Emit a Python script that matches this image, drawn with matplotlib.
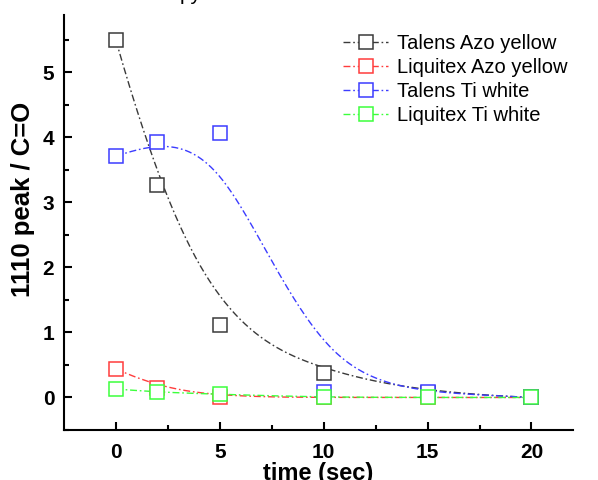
import numpy as np
import matplotlib
matplotlib.use("Agg")
import matplotlib.pyplot as plt
from matplotlib.lines import Line2D

plt.rcParams['font.family'] = ['Liberation Sans', 'DejaVu Sans']

time = [0, 2, 5, 10, 15, 20]
series_names = ["Talens Azo yellow", "Liquitex Azo yellow", "Talens Ti white", "Liquitex Ti white"]
talens_azo = [5.49, 3.26, 1.12, 0.37, 0.07, 0.0]
liquitex_azo = [0.44, 0.15, 0.01, 0.0, 0.0, 0.0]
talens_ti = [3.71, 3.92, 4.06, 0.08, 0.08, 0.0]
liquitex_ti = [0.13, 0.08, 0.05, 0.0, 0.0, 0.0]
colors = ["#3a3a3a", "#ff3c3c", "#3c3cff", "#3cff3c"]
x_ticks = [0, 5, 10, 15, 20]
y_ticks = [0, 1, 2, 3, 4, 5]


def bspline(xs, ys, num=300, k=3):
    """Clamped cubic B-spline using the data points as control points."""
    P = np.column_stack([xs, ys]).astype(float)
    n = len(P)
    inner = np.linspace(0, 1, n - k + 1)[1:-1]
    t = np.concatenate([np.zeros(k + 1), inner, np.ones(k + 1)])
    u = np.linspace(0, 1, num)
    u[-1] = 1 - 1e-12
    N = np.zeros((num, len(t) - 1))
    for i in range(len(t) - 1):
        N[:, i] = ((u >= t[i]) & (u < t[i + 1])).astype(float)
    for d in range(1, k + 1):
        Nn = np.zeros((num, len(t) - 1 - d))
        for i in range(len(t) - 1 - d):
            den1 = t[i + d] - t[i]
            den2 = t[i + d + 1] - t[i + 1]
            term = np.zeros(num)
            if den1 > 0:
                term += (u - t[i]) / den1 * N[:, i]
            if den2 > 0:
                term += (t[i + d + 1] - u) / den2 * N[:, i + 1]
            Nn[:, i] = term
        N = Nn
    C = N @ P
    return C[:, 0], C[:, 1]


fig = plt.figure(figsize=(5.98, 4.80), dpi=100)
W, H = 598, 480
ax = fig.add_axes([64 / W, 1 - 430 / H, (573 - 64) / W, (430 - 15) / H])

dash = (0, (5, 2, 1.2, 2))
all_series = [talens_azo, liquitex_azo, talens_ti, liquitex_ti]
handles = []
for name, ys, c in zip(series_names, all_series, colors):
    bx, by = bspline(time, ys)
    ax.plot(bx, by, color=c, lw=1.0, linestyle=dash, zorder=2)
for name, ys, c in zip(series_names, all_series, colors):
    ax.plot(time, ys, linestyle='none', marker='s', markersize=9.5,
            markerfacecolor='white', markeredgecolor=c, markeredgewidth=1.1, zorder=3)
    handles.append(Line2D([], [], color=c, lw=1.0, linestyle=dash, marker='s',
                          markersize=9.5, markerfacecolor='white',
                          markeredgecolor=c, markeredgewidth=1.1, label=name))

ax.set_xlim(-2.5, 22)
ax.set_ylim(-0.5, 5.88)
ax.set_xticks(x_ticks)
ax.set_yticks(y_ticks)
ax.set_xticks(np.arange(2.5, 22, 5), minor=True)
ax.set_yticks(np.arange(-0.5, 5.9, 1.0), minor=True)
ax.tick_params(which='major', direction='in', length=6, width=1.5, labelsize=15)
ax.tick_params(axis='x', which='major', pad=9)
ax.tick_params(axis='y', which='major', pad=7)
ax.tick_params(which='minor', direction='in', length=3.5, width=1.5)
for lab in ax.get_xticklabels() + ax.get_yticklabels():
    lab.set_fontweight('bold')
for s in ['top', 'right']:
    ax.spines[s].set_visible(False)
for s in ['left', 'bottom']:
    ax.spines[s].set_linewidth(1.5)

ax.set_xlabel("time (sec)", fontsize=17, fontweight='bold')
ax.xaxis.set_label_coords(0.5, (430 - 462) / 415, transform=ax.transAxes)
ax.xaxis.label.set_va('top')
ax.set_ylabel("1110 peak / C=O", fontsize=18.5, fontweight='bold')
ax.yaxis.set_label_coords((23 - 64) / 509, (430 - 199) / 415, transform=ax.transAxes)
ax.yaxis.label.set_va('center')

ax.legend(handles=handles, loc='upper left', bbox_to_anchor=(0.548, 0.9535),
          frameon=False, fontsize=14.5, handlelength=2.25, handletextpad=0.45,
          labelspacing=0.25, borderaxespad=0, borderpad=0)

fig.text(0.30, 1.0, "py", fontsize=15, va='baseline', ha='left')

fig.savefig("out.png", dpi=100)
